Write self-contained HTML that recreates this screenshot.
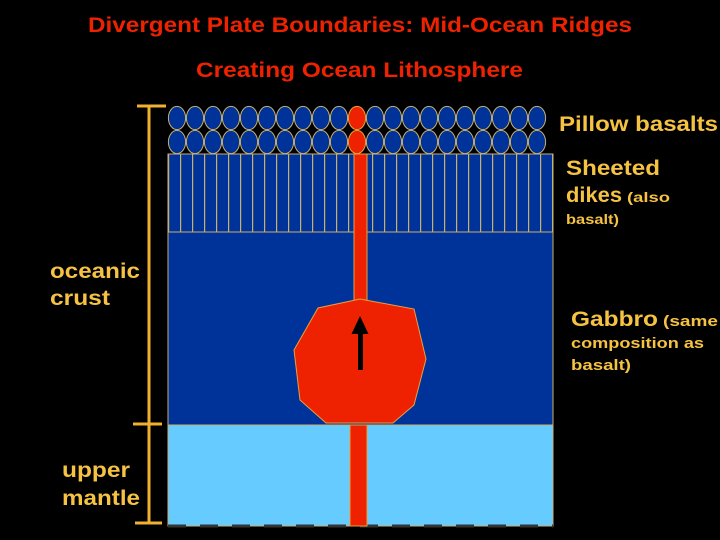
<!DOCTYPE html>
<html><head><meta charset="utf-8"><style>
html,body{margin:0;padding:0;background:#000;}
svg{display:block;}
text{font-family:"Liberation Sans",Arial,sans-serif;font-weight:bold;}
</style></head><body>
<svg width="720" height="540" viewBox="0 0 720 540" xmlns="http://www.w3.org/2000/svg">
<defs>
<pattern id="dk" x="168" y="0" width="12" height="10" patternUnits="userSpaceOnUse">
<rect width="12" height="10" fill="#003399"/>
<rect x="0" y="0" width="1.2" height="10" fill="#c8b070"/>
</pattern>
<g id="ov"><ellipse cx="0" cy="0" rx="8.6" ry="11.6" fill="#003399" stroke="#c8b070" stroke-width="1"/></g>
</defs>
<rect width="720" height="540" fill="#000"/>
<text x="88" y="32" fill="#ee2200" font-size="21" textLength="544" lengthAdjust="spacingAndGlyphs">Divergent Plate Boundaries: Mid-Ocean Ridges</text>
<text x="196" y="77" fill="#ee2200" font-size="21" textLength="327" lengthAdjust="spacingAndGlyphs">Creating Ocean Lithosphere</text>

<rect x="168" y="425" width="385" height="101" fill="#66ccff" stroke="#c8b070" stroke-width="1"/>
<rect x="168" y="232" width="385" height="193" fill="#003399" stroke="#c8b070" stroke-width="1"/>
<rect x="168" y="154" width="385" height="78" fill="url(#dk)" stroke="#c8b070" stroke-width="1"/>
<line x1="168" y1="526" x2="553" y2="526" stroke="#333" stroke-width="3" stroke-dasharray="18,14"/>

<g>
<use href="#ov" x="177" y="118"/><use href="#ov" x="195" y="118"/><use href="#ov" x="213" y="118"/><use href="#ov" x="231" y="118"/><use href="#ov" x="249" y="118"/><use href="#ov" x="267" y="118"/><use href="#ov" x="285" y="118"/><use href="#ov" x="303" y="118"/><use href="#ov" x="321" y="118"/><use href="#ov" x="339" y="118"/><use href="#ov" x="375" y="118"/><use href="#ov" x="393" y="118"/><use href="#ov" x="411" y="118"/><use href="#ov" x="429" y="118"/><use href="#ov" x="447" y="118"/><use href="#ov" x="465" y="118"/><use href="#ov" x="483" y="118"/><use href="#ov" x="501" y="118"/><use href="#ov" x="519" y="118"/><use href="#ov" x="537" y="118"/>
<use href="#ov" x="177" y="142"/><use href="#ov" x="195" y="142"/><use href="#ov" x="213" y="142"/><use href="#ov" x="231" y="142"/><use href="#ov" x="249" y="142"/><use href="#ov" x="267" y="142"/><use href="#ov" x="285" y="142"/><use href="#ov" x="303" y="142"/><use href="#ov" x="321" y="142"/><use href="#ov" x="339" y="142"/><use href="#ov" x="375" y="142"/><use href="#ov" x="393" y="142"/><use href="#ov" x="411" y="142"/><use href="#ov" x="429" y="142"/><use href="#ov" x="447" y="142"/><use href="#ov" x="465" y="142"/><use href="#ov" x="483" y="142"/><use href="#ov" x="501" y="142"/><use href="#ov" x="519" y="142"/><use href="#ov" x="537" y="142"/>
<ellipse cx="357" cy="118" rx="8.6" ry="11.6" fill="#ee2200" stroke="#e8a040"/>
<ellipse cx="357" cy="142" rx="8.6" ry="11.6" fill="#ee2200" stroke="#e8a040"/>
</g>

<rect x="354" y="154" width="13" height="150" fill="#ee2200" stroke="#e8a040" stroke-width="1"/>
<rect x="350" y="425" width="17" height="101" fill="#ee2200" stroke="#e8a040" stroke-width="1"/>
<polygon points="360,299 414,309 426,359 414,405 393,423 326,423 300,400 294,350 318,308" fill="#ee2200" stroke="#e8a040" stroke-width="1"/>
<rect x="358" y="332" width="5" height="38" fill="#000"/>
<polygon points="360,316 368.5,334 351.5,334" fill="#000"/>

<g stroke="#f0b030" stroke-width="3">
<line x1="149" y1="105" x2="149" y2="524"/>
<line x1="137" y1="106" x2="166" y2="106"/>
<line x1="133" y1="424" x2="162" y2="424"/>
<line x1="135" y1="523" x2="162" y2="523"/>
</g>

<g fill="#f5c242">
<text x="559" y="131" font-size="21" textLength="159" lengthAdjust="spacingAndGlyphs">Pillow basalts</text>
<text x="566" y="175" font-size="21" textLength="94" lengthAdjust="spacingAndGlyphs">Sheeted</text>
<text x="566" y="202" font-size="21" textLength="56" lengthAdjust="spacingAndGlyphs">dikes</text>
<text x="627" y="202" font-size="14" textLength="43" lengthAdjust="spacingAndGlyphs">(also</text>
<text x="566" y="224" font-size="14" textLength="53" lengthAdjust="spacingAndGlyphs">basalt)</text>
<text x="571" y="326" font-size="21" textLength="87" lengthAdjust="spacingAndGlyphs">Gabbro</text>
<text x="663" y="326" font-size="15" textLength="55" lengthAdjust="spacingAndGlyphs">(same</text>
<text x="571" y="348" font-size="15" textLength="133" lengthAdjust="spacingAndGlyphs">composition as</text>
<text x="571" y="370" font-size="15" textLength="60" lengthAdjust="spacingAndGlyphs">basalt)</text>
<text x="50" y="278" font-size="21" textLength="90" lengthAdjust="spacingAndGlyphs">oceanic</text>
<text x="50" y="305" font-size="21" textLength="60" lengthAdjust="spacingAndGlyphs">crust</text>
<text x="62" y="477" font-size="21" textLength="68" lengthAdjust="spacingAndGlyphs">upper</text>
<text x="62" y="505" font-size="21" textLength="78" lengthAdjust="spacingAndGlyphs">mantle</text>
</g>
</svg>
</body></html>
